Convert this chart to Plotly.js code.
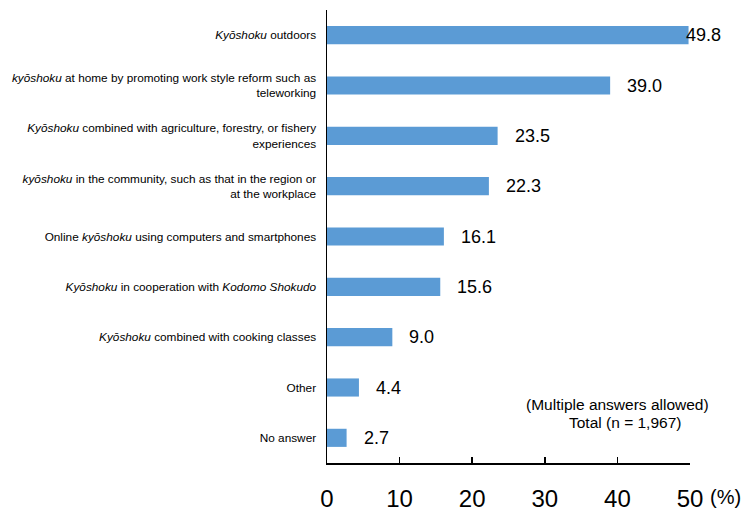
<!DOCTYPE html>
<html>
<head>
<meta charset="utf-8">
<script src="https://cdn.plot.ly/plotly-3.0.1.min.js"></script>
<style>body{margin:0;background:#fff;} #chart{width:750px;height:511px;}</style>
</head>
<body>
<div id="chart"></div>
<script>
const categories = [
  "<i>Kyōshoku</i> outdoors",
  "<i>kyōshoku</i> at home by promoting work style reform such as<br>teleworking",
  "<i>Kyōshoku</i> combined with agriculture, forestry, or fishery<br>experiences",
  "<i>kyōshoku</i> in the community, such as that in the region or<br>at the workplace",
  "Online <i>kyōshoku</i> using computers and smartphones",
  "<i>Kyōshoku</i> in cooperation with <i>Kodomo Shokudo</i>",
  "<i>Kyōshoku</i> combined with cooking classes",
  "Other",
  "No answer"
];
const values = [49.8, 39.0, 23.5, 22.3, 16.1, 15.6, 9.0, 4.4, 2.7];
const xTicks = [0, 10, 20, 30, 40, 50];
const noteLines = ["(Multiple answers allowed)", "Total (n = 1,967)"];

const FONT = 'Liberation Sans, Arial, sans-serif';
const xMax = 50;
const annotations = values.map((v, i) => ({
  x: v, y: categories[i], xref: 'x', yref: 'y',
  text: v.toFixed(1), showarrow: false, xanchor: 'left',
  xshift: (v > xMax - 2) ? -5 : 15,
  font: {family: FONT, size: 18, color: '#000'}
}));
annotations.push({
  xref: 'paper', yref: 'paper', x: 1.0, y: -0.075, xanchor: 'left', yanchor: 'middle',
  text: '(%)', showarrow: false, xshift: 18,
  font: {family: FONT, size: 20, color: '#000'}
});
annotations.push({
  xref: 'paper', yref: 'paper', x: 0.799, y: 0.130, xanchor: 'center', yanchor: 'middle',
  text: noteLines[0], showarrow: false,
  font: {family: FONT, size: 15.5, color: '#000'}
});
annotations.push({
  xref: 'paper', yref: 'paper', x: 0.822, y: 0.0905, xanchor: 'center', yanchor: 'middle',
  text: noteLines[1], showarrow: false,
  font: {family: FONT, size: 15.5, color: '#000'}
});

const trace = {
  type: 'bar', orientation: 'h',
  x: values, y: categories,
  marker: {color: '#5B9BD5'},
  width: 0.36,
  hoverinfo: 'x+y'
};

const layout = {
  width: 750, height: 511,
  margin: {l: 327, r: 60, t: 10, b: 48},
  paper_bgcolor: '#fff', plot_bgcolor: '#fff',
  showlegend: false,
  font: {family: FONT, color: '#000'},
  xaxis: {
    range: [0, 50], tickvals: xTicks, ticktext: xTicks.map(String),
    showgrid: false, zeroline: false,
    showline: true, linecolor: '#000', linewidth: 1.5,
    ticks: 'inside', ticklen: 6, tickwidth: 1.5, tickcolor: '#000',
    ticklabelstandoff: 14,
    tickfont: {family: FONT, size: 24, color: '#000'}
  },
  yaxis: {
    categoryorder: 'array', categoryarray: categories,
    autorange: 'reversed',
    showgrid: false, zeroline: false,
    showline: true, linecolor: '#000', linewidth: 1.5,
    ticks: '', ticklabelstandoff: 7,
    tickfont: {family: FONT, size: 11.8, color: '#000'}
  },
  annotations: annotations
};

Plotly.newPlot('chart', [trace], layout, {displayModeBar: false, staticPlot: true});
</script>
</body>
</html>
